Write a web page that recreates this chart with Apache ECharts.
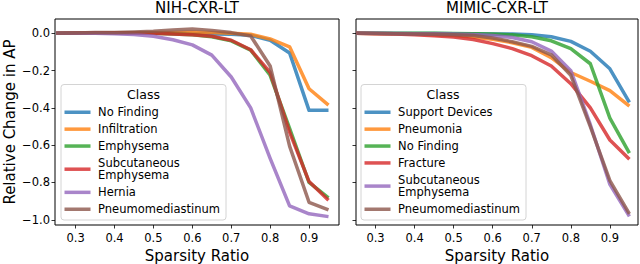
<!DOCTYPE html>
<html><head><meta charset="utf-8">
<script src="https://cdn.jsdelivr.net/npm/echarts@6/dist/echarts.min.js"></script>
<style>html,body{margin:0;padding:0;background:#fff}#c{width:640px;height:264px}</style>
</head><body><div id="c"></div>
<script>
// ---------- data ----------
const sparsity = [0.25, 0.30, 0.35, 0.40, 0.45, 0.50, 0.55, 0.60, 0.65, 0.70, 0.75, 0.80, 0.85, 0.90, 0.95];
const xTicks = [0.3, 0.4, 0.5, 0.6, 0.7, 0.8, 0.9];
const yTicks = [0, -0.2, -0.4, -0.6, -0.8, -1.0];
const panelTitles = ['NIH-CXR-LT', 'MIMIC-CXR-LT'];
const legendTitle = 'Class';
const xAxisTitle = 'Sparsity Ratio';
const yAxisTitle = 'Relative Change in AP';

const nihClasses = ['No Finding', 'Infiltration', 'Emphysema', 'Subcutaneous\nEmphysema', 'Hernia', 'Pneumomediastinum'];
const nihNoFinding   = [0, 0.002, 0.003, 0.003, 0.003, 0.002, 0.002, 0.000, -0.003, -0.005, -0.010, -0.037, -0.105, -0.413, -0.413];
const nihInfiltration= [0, 0.002, 0.003, 0.003, 0.003, 0.004, 0.005, 0.006, 0.004, 0.001, -0.005, -0.030, -0.072, -0.297, -0.385];
const nihEmphysema   = [0, 0.002, 0.003, 0.003, 0.002, 0.000, -0.003, -0.008, -0.018, -0.040, -0.090, -0.225, -0.510, -0.800, -0.882];
const nihSubcutEmph  = [0, 0.002, 0.003, 0.003, 0.002, 0.000, -0.003, -0.007, -0.016, -0.037, -0.088, -0.210, -0.530, -0.795, -0.895];
const nihHernia      = [0, 0.000, 0.000, -0.002, -0.006, -0.016, -0.034, -0.062, -0.117, -0.234, -0.400, -0.670, -0.925, -0.968, -0.983];
const nihPneumomed   = [0, 0.002, 0.004, 0.005, 0.007, 0.011, 0.018, 0.024, 0.016, 0.004, -0.014, -0.175, -0.605, -0.906, -0.947];

const mimicClasses = ['Support Devices', 'Pneumonia', 'No Finding', 'Fracture', 'Subcutaneous\nEmphysema', 'Pneumomediastinum'];
const mimicSupport   = [0, 0.000, -0.001, -0.001, -0.001, -0.002, -0.002, -0.003, -0.004, -0.008, -0.018, -0.043, -0.096, -0.190, -0.370];
const mimicPneumonia = [0, -0.001, -0.002, -0.004, -0.007, -0.012, -0.020, -0.032, -0.050, -0.075, -0.130, -0.210, -0.257, -0.307, -0.390];
const mimicNoFinding = [0, 0.000, 0.000, 0.000, 0.000, -0.001, -0.002, -0.003, -0.008, -0.018, -0.040, -0.082, -0.163, -0.455, -0.643];
const mimicFracture  = [0, -0.002, -0.004, -0.008, -0.013, -0.020, -0.033, -0.055, -0.082, -0.120, -0.175, -0.270, -0.400, -0.572, -0.675];
const mimicSubcut    = [0, 0.000, -0.001, -0.002, -0.002, -0.003, -0.006, -0.012, -0.022, -0.045, -0.095, -0.200, -0.490, -0.810, -0.982];
const mimicPneumomed = [0, -0.001, -0.002, -0.003, -0.005, -0.008, -0.012, -0.025, -0.045, -0.070, -0.115, -0.225, -0.500, -0.790, -0.968];

const nihSeries = [nihNoFinding, nihInfiltration, nihEmphysema, nihSubcutEmph, nihHernia, nihPneumomed];
const mimicSeries = [mimicSupport, mimicPneumonia, mimicNoFinding, mimicFracture, mimicSubcut, mimicPneumomed];

// ---------- styling ----------
const palette = ['#1f77b4', '#ff7f0e', '#2ca02c', '#d62728', '#9467bd', '#8c564b'];
const FONT = 'DejaVu Sans';
const fmt = v => { const s = Math.abs(v).toFixed(1); return v < -1e-9 ? '\u2212' + s : s; };

const grids = [
  { left: 55, top: 19, width: 284, height: 206 },
  { left: 356, top: 19, width: 282, height: 206 }
];
const xRanges = [[0.247, 0.977], [0.250, 0.972]];
const yRange = [-1.028, 0.077];

const chart = echarts.init(document.getElementById('c'), null, { renderer: 'svg', width: 640, height: 264 });

function mkX(i) {
  return {
    type: 'value', gridIndex: i, min: xRanges[i][0], max: xRanges[i][1], position: 'bottom',
    name: xAxisTitle, nameLocation: 'middle', nameGap: 23, nameMoveOverlap: false,
    nameTextStyle: { fontFamily: FONT, fontSize: 15, color: '#000' },
    axisLine: { show: false, onZero: false },
    axisTick: { show: true, inside: false, length: 3.5, customValues: xTicks, lineStyle: { color: '#000', width: 0.8 } },
    axisLabel: { show: true, customValues: xTicks, margin: 7, formatter: fmt, fontFamily: FONT, fontSize: 11.5, color: '#000' },
    splitLine: { show: false }
  };
}
function mkY(i) {
  return {
    type: 'value', gridIndex: i, min: yRange[0], max: yRange[1], position: 'left',
    name: i === 0 ? yAxisTitle : '', nameLocation: 'middle', nameGap: 38, nameMoveOverlap: false,
    nameTextStyle: { fontFamily: FONT, fontSize: 15, color: '#000' },
    axisLine: { show: false, onZero: false },
    axisTick: { show: true, inside: false, length: 3.5, customValues: yTicks, lineStyle: { color: '#000', width: 0.8 } },
    axisLabel: { show: i === 0, customValues: yTicks, margin: 5, formatter: fmt, fontFamily: FONT, fontSize: 11.5, color: '#000' },
    splitLine: { show: false }
  };
}

const series = [];
[nihSeries, mimicSeries].forEach((group, gi) => {
  const names = gi === 0 ? nihClasses : mimicClasses;
  group.forEach((vals, k) => {
    series.push({
      type: 'line', name: names[k], xAxisIndex: gi, yAxisIndex: gi,
      data: sparsity.map((x, j) => [x, vals[j]]),
      showSymbol: false, symbol: 'none', animation: false, silent: true,
      lineStyle: { color: palette[k], width: 3.5, opacity: 0.8, join: 'round' },
      itemStyle: { color: palette[k] },
      clip: true
    });
  });
});

function mkLegend(i, names) {
  return {
    orient: 'vertical', left: i === 0 ? 61 : 361, top: 84.5,
    padding: [21.5, 6, 4.5, 3.5], itemGap: 4.4, itemWidth: 26, itemHeight: 3.5, icon: 'rect',
    backgroundColor: 'rgba(255,255,255,0.8)', borderColor: '#d4d4d4', borderWidth: 1, borderRadius: 3,
    selectedMode: false,
    textStyle: { fontFamily: FONT, fontSize: 11.5, lineHeight: 12.5, color: '#000', padding: [0, 0, 0, 2.6] },
    data: names.map((n, k) => ({ name: n, itemStyle: { color: palette[k], opacity: 0.8 } }))
  };
}

const centers = grids.map(g => g.left + g.width / 2);

chart.setOption({
  animation: false,
  backgroundColor: '#fff',
  tooltip: { show: false },
  grid: grids.map(g => Object.assign({ show: true, borderColor: '#000', borderWidth: 1, backgroundColor: 'transparent', containLabel: false, outerBoundsMode: 'none' }, g)),
  xAxis: [mkX(0), mkX(1)],
  yAxis: [mkY(0), mkY(1)],
  legend: [mkLegend(0, nihClasses), mkLegend(1, mimicClasses)],
  series: series,
  graphic: [
    { type: 'text', x: centers[0], y: 7.5, style: { text: panelTitles[0], font: '15px "DejaVu Sans"', fill: '#000', align: 'center', verticalAlign: 'middle' } },
    { type: 'text', x: centers[1], y: 7.5, style: { text: panelTitles[1], font: '15px "DejaVu Sans"', fill: '#000', align: 'center', verticalAlign: 'middle' } },
    { type: 'text', x: 143.5, y: 94.3, z: 100, style: { text: legendTitle, font: '12.5px "DejaVu Sans"', fill: '#000', align: 'center', verticalAlign: 'middle' } },
    { type: 'text', x: 443, y: 94.3, z: 100, style: { text: legendTitle, font: '12.5px "DejaVu Sans"', fill: '#000', align: 'center', verticalAlign: 'middle' } }
  ]
});
</script>
</body></html>
